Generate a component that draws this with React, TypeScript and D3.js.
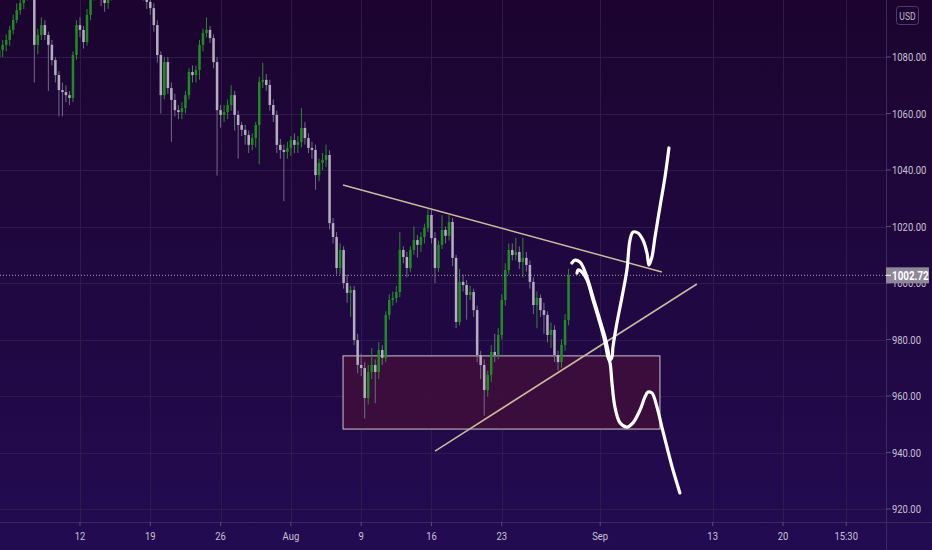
import * as d3 from 'd3';

const W = 932;
const H = 550;
const PLOT_R = 886;
const PLOT_B = 522;

// hourly-ish bars, 4 per trading day, first bar sits 5.75 days before Jul 12
const FIRST_DAY = -5.75;
const BARS_PER_DAY = 4;
const FIRST_OPEN = 1080;

const closes = [
  1082.5, 1084.3, 1086.0, 1089.6, 1093.1, 1096.6, 1099.1, 1102.0, 1105.5, 1103.7,
  1084.3, 1087.8, 1091.3, 1087.8, 1084.3, 1078.9, 1073.6, 1068.3, 1067.6, 1066.5,
  1065.5, 1080.7, 1091.3, 1089.6, 1085.3, 1094.9, 1102.0, 1105.5, 1103.7, 1100.2,
  1099.1, 1102.0, 1105.5, 1107.3, 1109.0, 1107.3, 1105.5, 1107.3, 1105.5, 1103.7,
  1103.7, 1102.0, 1099.5, 1097.3, 1091.3, 1080.7, 1066.5, 1078.2, 1069.0, 1064.8,
  1061.2, 1060.5, 1061.9, 1066.5, 1074.7, 1073.6, 1075.4, 1084.3, 1088.5, 1089.6,
  1086.7, 1078.2, 1061.2, 1059.5, 1060.5, 1063.0, 1066.5, 1059.5, 1055.9, 1054.2,
  1052.4, 1048.9, 1051.3, 1055.9, 1071.2, 1071.9, 1070.1, 1063.0, 1059.5, 1048.9,
  1047.1, 1046.4, 1047.8, 1050.6, 1048.9, 1049.9, 1054.9, 1051.3, 1047.8, 1047.1,
  1038.2, 1042.5, 1043.6, 1045.3, 1021.2, 1016.3, 1005.3, 1011.7, 1000.0, 996.5,
  997.5, 979.8, 971.0, 969.9, 959.3, 968.5, 971.0, 968.5, 976.3, 973.5,
  988.7, 994.0, 994.7, 996.8, 1011.7, 1009.2, 1005.3, 1011.7, 1015.2, 1013.5,
  1016.3, 1019.5, 1024.1, 1015.9, 1005.3, 1013.5, 1018.8, 1016.7, 1021.6, 1008.9,
  986.2, 1000.4, 999.3, 995.8, 996.8, 990.4, 974.5, 971.0, 962.1, 967.5,
  975.6, 974.5, 981.6, 994.0, 1004.6, 1011.7, 1009.9, 1011.0, 1007.4, 1008.9,
  1006.4, 1000.4, 992.2, 994.7, 990.4, 988.7, 981.6, 983.4, 974.5, 972.0,
  978.1, 986.9, 1002.72,
];

const highs = [
  1084, 1086, 1088, 1091, 1095, 1099, 1101, 1104, 1107, 1108,
  1105, 1090, 1094, 1093, 1089, 1086, 1080, 1075, 1071, 1070,
  1068, 1082, 1093, 1094, 1091, 1097, 1104, 1107, 1107, 1105,
  1102, 1104, 1107, 1109, 1111, 1111, 1109, 1109, 1109, 1107,
  1106, 1105, 1104, 1101, 1099, 1093, 1082, 1080, 1080, 1071,
  1067, 1063, 1064, 1068, 1076, 1077, 1077, 1086, 1090, 1094,
  1091, 1088, 1080, 1063, 1063, 1065, 1070, 1068, 1061, 1057,
  1056, 1054, 1053, 1057, 1073, 1078, 1074, 1072, 1065, 1061,
  1051, 1049, 1050, 1052, 1053, 1052, 1062, 1057, 1053, 1050,
  1049, 1044, 1046, 1049, 1047, 1023, 1018, 1014, 1013, 1003,
  999, 999, 982, 975, 972, 971, 977, 973, 979, 978,
  990, 996, 997, 999, 1018, 1013, 1011, 1013, 1020, 1017,
  1018, 1021, 1026, 1026, 1018, 1015, 1024, 1020, 1024, 1023,
  1010, 1005, 1003, 1001, 999, 998, 992, 976, 973, 969,
  978, 982, 984, 996, 1007, 1014, 1014, 1016, 1013, 1016,
  1011, 1008, 1002, 997, 996, 993, 990, 986, 985, 976,
  980, 989, 1005,
];

const lows = [
  1074, 1080, 1082, 1084, 1088, 1092, 1095, 1097, 1100, 1102,
  1071, 1081, 1086, 1086, 1068, 1077, 1071, 1059, 1059, 1064,
  1063, 1064, 1079, 1087, 1083, 1084, 1093, 1100, 1101, 1098,
  1096, 1097, 1100, 1104, 1106, 1105, 1104, 1104, 1103, 1102,
  1101, 1100, 1097, 1095, 1089, 1078, 1060, 1065, 1067, 1050,
  1059, 1058, 1058, 1060, 1065, 1071, 1071, 1072, 1082, 1087,
  1085, 1076, 1038, 1055, 1057, 1058, 1061, 1054, 1044, 1052,
  1049, 1046, 1047, 1048, 1042, 1069, 1068, 1061, 1057, 1046,
  1044, 1029, 1044, 1045, 1046, 1046, 1048, 1049, 1046, 1044,
  1033, 1036, 1040, 1041, 1019, 1014, 1003, 1003, 998, 993,
  988, 978, 968, 967, 952, 957, 966, 957.5, 966, 971,
  972, 987, 992, 993, 995, 1007, 1002, 1004, 1010, 1009,
  1011, 1014, 1018, 1014, 1000, 1004, 1012, 1014, 1015, 1006,
  984, 985, 997, 987, 994, 988, 972, 966, 953, 959.7,
  965, 972, 973, 980, 992, 1003, 1008, 1008, 1005, 1002,
  1004, 998, 989, 984, 988, 982, 979, 977, 972, 969,
  970, 976, 985,
];

const LAST_PRICE = 1002.72;

const priceTicks = [920, 940, 960, 980, 1000, 1020, 1040, 1060, 1080];
const timeTickDays = [0, 5, 10, 15, 20, 25, 30, 37, 45, 50, 54.5];
const timeTickLabels = ['12', '19', '26', 'Aug', '9', '16', '23', 'Sep', '13', '20', '15:30'];

// drawings, anchored in [trading day, price]
const upperTrend: [number, number][] = [[18.71, 1034.7], [41.39, 1003.9]];
const lowerTrend: [number, number][] = [[25.25, 940.5], [43.88, 999.65]];
const zoneDays = [18.71, 41.25];
const zonePrices = [948.3, 974.2];

const bullPath: [number, number][] = [
  [34.99, 1007.1], [35.21, 1008.1], [35.56, 1007.4], [35.78, 1005.7], [36.06, 1002.1],
  [36.49, 995.0], [36.98, 986.9], [37.34, 980.9], [37.55, 976.3], [37.7, 972.8],
  [37.84, 973.8], [37.91, 977.4], [38.19, 985.8], [38.55, 995.0], [38.9, 1004.6],
  [39.12, 1015.2], [39.33, 1018.0], [39.69, 1017.7], [40.04, 1015.2], [40.33, 1010.6],
  [40.47, 1006.4], [40.68, 1009.2], [40.9, 1016.3], [41.25, 1026.9], [41.61, 1037.5],
  [41.89, 1047.8],
];

const bearPath: [number, number][] = [
  [35.35, 1003.5], [35.42, 1004.6], [35.7, 1003.9], [36.06, 1001.1], [36.49, 994.0],
  [36.98, 985.8], [37.34, 979.1], [37.55, 973.8], [37.7, 971.7], [37.84, 964.6],
  [38.05, 956.1], [38.41, 950.5], [38.9, 949.0], [39.33, 950.5], [39.83, 955.0],
  [40.18, 959.6], [40.4, 961.4], [40.68, 961.1], [41.04, 956.1], [41.39, 949.0],
  [41.75, 941.9], [42.18, 933.8], [42.67, 925.7],
];

const FONT = 'Roboto, "Liberation Sans", Arial, sans-serif';

// TradingView's axis font is condensed; squeeze the glyphs horizontally
function Narrow(props: {
  x: number;
  y: number;
  size: number;
  fill: string;
  anchor?: 'start' | 'middle' | 'end';
  weight?: string;
  children: string;
}) {
  const { x, y, size, fill, anchor = 'start', weight = 'normal', children } = props;
  return (
    <text
      transform={`translate(${x},${y}) scale(0.82,1)`}
      fontSize={size}
      fill={fill}
      textAnchor={anchor}
      fontWeight={weight}
    >
      {children}
    </text>
  );
}

export default function App() {
  const x = d3.scaleLinear().domain([-5.69, 57.33]).range([0, PLOT_R]);
  const y = d3.scaleLinear().domain([915.4, 1100.18]).range([PLOT_B, 0]);

  const step = x(1 / BARS_PER_DAY) - x(0);
  const bodyW = step * 0.72;

  const bars = closes.map((c, i) => {
    const o = i === 0 ? FIRST_OPEN : closes[i - 1];
    return { day: FIRST_DAY + i / BARS_PER_DAY, o, c, h: highs[i], l: lows[i] };
  });

  const line = d3
    .line<[number, number]>()
    .x(d => x(d[0]))
    .y(d => y(d[1]))
    .curve(d3.curveCatmullRom.alpha(0.5));

  const yLast = y(LAST_PRICE);

  return (
    <svg width={W} height={H} style={{ position: 'absolute', left: 0, top: 0 }} fontFamily={FONT}>
      <defs>
        <linearGradient id="bg" x1="0" y1="0" x2="0" y2="1">
          <stop offset="0%" stopColor="#1c042f" />
          <stop offset="100%" stopColor="#230b52" />
        </linearGradient>
        <clipPath id="plot">
          <rect x={0} y={0} width={PLOT_R} height={PLOT_B} />
        </clipPath>
      </defs>
      <rect width={W} height={H} fill="url(#bg)" />

      {/* grid */}
      <g stroke="#2f1a4b" strokeWidth={1}>
        {priceTicks.map(p => (
          <line key={p} x1={0} x2={PLOT_R} y1={Math.round(y(p)) + 0.5} y2={Math.round(y(p)) + 0.5} />
        ))}
        {timeTickDays.map(d => (
          <line key={d} x1={Math.round(x(d)) + 0.5} x2={Math.round(x(d)) + 0.5} y1={0} y2={PLOT_B} />
        ))}
      </g>

      <g clipPath="url(#plot)">
        {/* zone */}
        <rect
          x={x(zoneDays[0])}
          y={y(zonePrices[1])}
          width={x(zoneDays[1]) - x(zoneDays[0])}
          height={y(zonePrices[0]) - y(zonePrices[1])}
          fill="#3d0e3c"
          fillOpacity={0.92}
          stroke="#cfc4c9"
          strokeWidth={1}
        />

        {/* candles */}
        {bars.map((b, i) => {
          const up = b.c >= b.o;
          const cx = x(b.day);
          const top = y(Math.max(b.o, b.c));
          const bot = y(Math.min(b.o, b.c));
          return (
            <g key={i}>
              <line
                x1={cx}
                x2={cx}
                y1={y(b.h)}
                y2={y(b.l)}
                stroke={up ? '#2a8a2a' : '#736a88'}
                strokeWidth={1}
              />
              <rect
                x={cx - bodyW / 2}
                y={top}
                width={bodyW}
                height={Math.max(1, bot - top)}
                fill={up ? '#1f8c22' : '#b3adbd'}
              />
            </g>
          );
        })}

        {/* last price dotted line */}
        <line x1={0} x2={PLOT_R} y1={yLast} y2={yLast} stroke="#a39cb0" strokeWidth={1} strokeDasharray="1,2" />

        {/* trendlines */}
        <line
          x1={x(upperTrend[0][0])} y1={y(upperTrend[0][1])}
          x2={x(upperTrend[1][0])} y2={y(upperTrend[1][1])}
          stroke="#cbbb9c" strokeWidth={1.5}
        />
        <line
          x1={x(lowerTrend[0][0])} y1={y(lowerTrend[0][1])}
          x2={x(lowerTrend[1][0])} y2={y(lowerTrend[1][1])}
          stroke="#cbbb9c" strokeWidth={1.5}
        />

        {/* hand drawn scenarios */}
        <path d={line(bullPath) ?? ''} fill="none" stroke="#ffffff" strokeWidth={3.2} strokeLinecap="round" strokeLinejoin="round" />
        <path d={line(bearPath) ?? ''} fill="none" stroke="#ffffff" strokeWidth={3.2} strokeLinecap="round" strokeLinejoin="round" />
      </g>

      {/* axes separators */}
      <line x1={PLOT_R + 0.5} x2={PLOT_R + 0.5} y1={0} y2={H} stroke="#3b2a5c" />
      <line x1={0} x2={W} y1={PLOT_B + 0.5} y2={PLOT_B + 0.5} stroke="#3b2a5c" />

      {/* price axis */}
      {priceTicks.map(p => (
        <g key={p}>
          <line x1={PLOT_R} x2={PLOT_R + 5} y1={y(p)} y2={y(p)} stroke="#5a4a78" />
          <Narrow x={892} y={y(p) + 4} size={11.5} fill="#c9c2d3">{p.toFixed(2)}</Narrow>
        </g>
      ))}

      {/* current price tag */}
      <rect x={PLOT_R} y={yLast - 8} width={43} height={16} fill="#8e8898" />
      <line x1={PLOT_R} x2={PLOT_R + 5} y1={yLast} y2={yLast} stroke="#ffffff" />
      <Narrow x={892} y={yLast + 4.5} size={12} fill="#ffffff" weight="bold">{LAST_PRICE.toFixed(2)}</Narrow>

      {/* currency badge */}
      <rect x={896.5} y={6.5} width={22} height={18} rx={3} fill="none" stroke="#4e3d70" />
      <Narrow x={907.5} y={19.5} size={10.5} fill="#c1bace" anchor="middle">USD</Narrow>

      {/* time axis */}
      {timeTickDays.map((d, i) => (
        <g key={d}>
          <line x1={x(d)} x2={x(d)} y1={PLOT_B} y2={PLOT_B + 4} stroke="#5a4a78" />
          <Narrow x={x(d)} y={540} size={11.5} fill="#c9c2d3" anchor="middle">{timeTickLabels[i]}</Narrow>
        </g>
      ))}
    </svg>
  );
}
